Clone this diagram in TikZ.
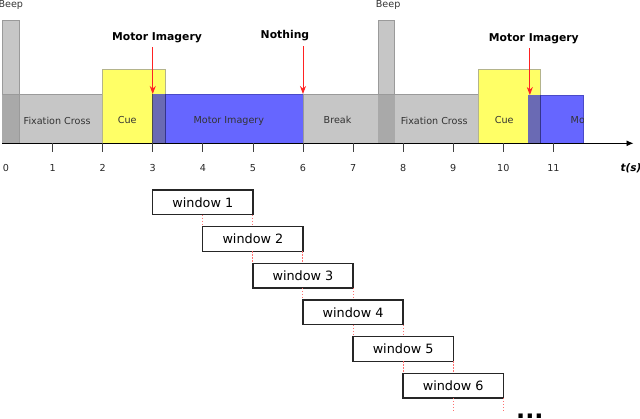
\documentclass[tikz,border=0pt]{standalone}
\usepackage{fontspec}
\setmainfont{DejaVu Sans}
\usetikzlibrary{arrows.meta}
\definecolor{bgray}{HTML}{C6C6C6}
\definecolor{bgrayedge}{HTML}{9A9A9A}
\definecolor{bgraydark}{HTML}{A9A9A9}
\definecolor{cueyellow}{HTML}{FFFF66}
\definecolor{cueedge}{HTML}{B4B48C}
\definecolor{miblue}{HTML}{6666FF}
\definecolor{miedge}{HTML}{4A4AC8}
\definecolor{midark}{HTML}{6A6AB4}
\definecolor{arrred}{HTML}{FF2222}
\definecolor{linkred}{HTML}{FF7070}
\tikzset{
  graybox/.style={fill=bgray,draw=bgrayedge,line width=0.8pt},
  beepover/.style={fill=bgraydark},
  cuebox/.style={fill=cueyellow,draw=cueedge,line width=0.8pt},
  mibox/.style={fill=miblue,draw=miedge,line width=0.8pt},
  mover/.style={fill=midark},
  boxlabel/.style={font=\fontsize{9.6}{11}\selectfont,text=black!80},
  ticklabel/.style={font=\fontsize{9.6}{11}\selectfont,text=black!85},
  eventlabel/.style={font=\bfseries\fontsize{10.8}{12}\selectfont},
  redarrow/.style={draw=arrred,line width=0.9pt,-{Stealth[length=8pt,width=6pt]},arrred},
  winbox/.style={draw=black!85,line width=1.3pt,fill=white,minimum width=100.16pt,minimum height=24.7pt,inner sep=0pt,outer sep=0pt,font=\fontsize{12.8}{14}\selectfont},
  winlink/.style={draw=linkred,line width=1pt,dash pattern=on 1.2pt off 1.8pt},
}
\begin{document}
\begin{tikzpicture}[x=50.08pt,y=-1pt]
\useasboundingbox (-0.0499,0) rectangle (12.7296,418);
\clip (-0.0499,0) rectangle (12.7296,418);

% ---- first trial ----
\draw[graybox] (0,94) rectangle (2,143.3);
\draw[graybox] (0,20) rectangle (0.33,143.3);
\fill[beepover] (0,94) rectangle (0.33,143.3);
\draw[bgrayedge,line width=0.8pt] (0,94) -- (0.33,94);
\draw[cuebox] (2,69.5) rectangle (3.25,143.3);
\draw[mibox] (3,94) rectangle (6,143.3);
\fill[mover] (3,94) rectangle (3.25,143.3);
\draw[miedge!70!black,line width=0.8pt] (3.25,94) -- (3.25,143.3);
\draw[black!70,line width=0.9pt] (3,94) -- (3,143.3);
\draw[graybox] (6,94) rectangle (7.5,143.3);

% ---- second trial ----
\draw[graybox] (7.5,94) rectangle (9.5,143.3);
\draw[graybox] (7.5,20) rectangle (7.83,143.3);
\fill[beepover] (7.5,94) rectangle (7.83,143.3);
\draw[bgrayedge,line width=0.8pt] (7.5,94) -- (7.83,94);
\draw[cuebox] (9.5,69.5) rectangle (10.75,143.3);
\draw[mibox] (10.5,95) rectangle (11.6,143.3);
\fill[mover] (10.5,95) rectangle (10.75,143.3);
\draw[miedge!70!black,line width=0.8pt] (10.75,95) -- (10.75,143.3);

% ---- labels in boxes ----
\node[boxlabel] (fix1) at (1.09,120.5) {Fixation Cross};
\node[boxlabel] (cue1) at (2.49,120.5) {Cue};
\node[boxlabel] (mi1) at (4.52,120.5) {Motor Imagery};
\node[boxlabel] (brk) at (6.69,120) {Break};
\node[boxlabel] (fix2) at (8.62,120.5) {Fixation Cross};
\node[boxlabel] (cue2) at (10.02,120.5) {Cue};
\begin{scope}
\clip (10.5,95) rectangle (11.6,143.3);
\node[boxlabel] (mi2) at (12.05,120.5) {Motor Imagery};
\end{scope}
\node[boxlabel] (beep1) at (0.165,5) {Beep};
\node[boxlabel] (beep2) at (7.70,5) {Beep};

% ---- axis ----
\coordinate (ax0) at (0,143.3);
\coordinate (axend) at (12.6,143.3);
\draw[black,line width=0.9pt,-{Latex[length=7pt,width=6pt]}] (ax0) -- (axend);
\foreach \t in {1,...,11} {
  \draw[black!75,line width=0.8pt] (\t,143.3) -- (\t,151.5);
  \node[ticklabel] (tl\t) at (\t,168) {\t};
}
\node[ticklabel] (tl0) at (0.07,168) {0};
\node[font=\bfseries\itshape\fontsize{10.5}{12}\selectfont] (tunit) at (12.55,168) {t(s)};

% ---- event labels and arrows ----
\node[eventlabel] (ev1) at (3.085,38) {Motor Imagery};
\node[eventlabel] (ev2) at (5.64,36) {Nothing};
\node[eventlabel] (ev3) at (10.61,38.3) {Motor Imagery};
\coordinate (a1) at (3,94);
\coordinate (a2) at (6,94);
\coordinate (a3) at (10.53,95);
\draw[redarrow] (3,47) -- (a1);
\draw[redarrow] (6,46) -- (a2);
\draw[redarrow] (10.53,48) -- (a3);

% ---- windows ----
\foreach \i in {1,...,6} {
  \pgfmathsetmacro{\xc}{3+\i}
  \pgfmathsetmacro{\yc}{190+36.65*(\i-1)+12.35}
  \node[winbox] (w\i) at (\xc,\yc) {window \i};
}
\foreach \i [evaluate=\i as \j using int(\i+1)] in {1,...,5} {
  \draw[winlink] (w\j.north west |- w\i.south) -- (w\j.north west);
  \draw[winlink] (w\i.south east) -- (w\i.south east |- w\j.north);
}
\coordinate (e1) at (9,410);
\coordinate (e2) at (10,410);
\draw[winlink] (w6.south west -| e1) -- (e1);
\draw[winlink] (w6.south east) -- (e2);
\node[font=\bfseries\fontsize{24}{24}\selectfont,anchor=base,inner sep=0pt] (dots) at (10.53,418.5) {...};
\end{tikzpicture}
\end{document}
